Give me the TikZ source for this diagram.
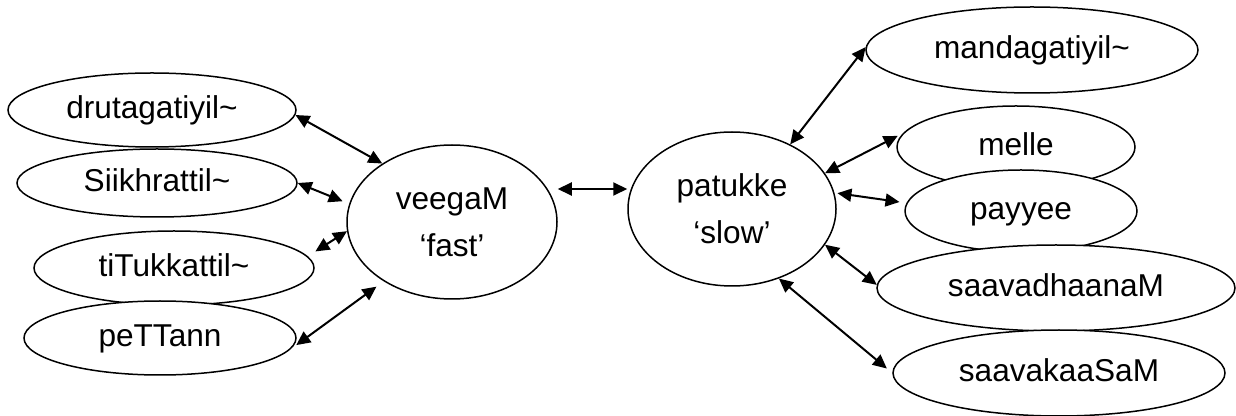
\documentclass[tikz,border=0pt]{standalone}
\usepackage{fontspec}
\setmainfont{Liberation Sans}
\usetikzlibrary{shapes.geometric,arrows.meta}
\begin{document}
\begin{tikzpicture}[x=0.5pt,y=-0.5pt,
  oval/.style={ellipse,draw,line width=0.75pt,fill=white,inner sep=0pt,
    font=\fontsize{15.8}{23.5}\selectfont,align=center},
  oneline/.style={oval,text height=0.86em,text depth=0pt},
  biarr/.style={{Triangle[length=7pt,width=6.5pt]}-{Triangle[length=7pt,width=6.5pt]},line width=1pt}]
\useasboundingbox (0,0) rectangle (1236,416);
% left group
\node[oneline,minimum width=144pt,minimum height=37pt] (drut) at (152,110) {drutagatiyil\char`~};
\node[oneline,minimum width=140pt,minimum height=34pt] (siik) at (157,183) {Siikhrattil\char`~};
\node[oneline,minimum width=140pt,minimum height=37pt] (tituk) at (174,268) {tiTukkattil\char`~};
\node[oneline,minimum width=136pt,minimum height=37pt] (pett) at (160,338) {peTTann};
\node[oval,minimum width=105pt,minimum height=77pt] (veeg) at (452,222) {veegaM\\‘fast’};
% right group
\node[oval,minimum width=104pt,minimum height=77pt] (pat) at (732,209) {patukke\\‘slow’};
\node[oneline,minimum width=166pt,minimum height=43pt] (mand) at (1032,50) {mandagatiyil\char`~};
\node[oneline,minimum width=119pt,minimum height=41pt] (melle) at (1016,147) {melle};
\node[oneline,minimum width=116pt,minimum height=41pt] (payyee) at (1021,211) {payyee};
\node[oneline,minimum width=179pt,minimum height=43pt] (saavadh) at (1056,288) {saavadhaanaM};
\node[oneline,minimum width=166pt,minimum height=43pt] (saavak) at (1059,373) {saavakaaSaM};
% connectors
\draw[biarr] (drut.-2) -- (veeg.140);
\draw[biarr,shorten >=3.5pt] (siik.east) -- (veeg.170);
\draw[biarr,shorten <=4.5pt] (tituk.5) -- (veeg.185);
\draw[biarr,shorten <=7pt,shorten >=4.5pt] (pett.-7) -- (veeg.221);
\draw[biarr] ([yshift=16.5pt]veeg.east) -- ([yshift=10pt]pat.west);
\draw[biarr] (pat.48) -- (mand.179);
\draw[biarr,shorten >=3pt] (pat.21) -- (melle.173);
\draw[biarr,shorten <=1.5pt,shorten >=3.5pt] (pat.9) -- (payyee.176);
\draw[biarr] (pat.-21) -- (saavadh.179);
\draw[biarr,shorten >=3.5pt] (pat.-56) -- (saavak.west);
\end{tikzpicture}
\end{document}
